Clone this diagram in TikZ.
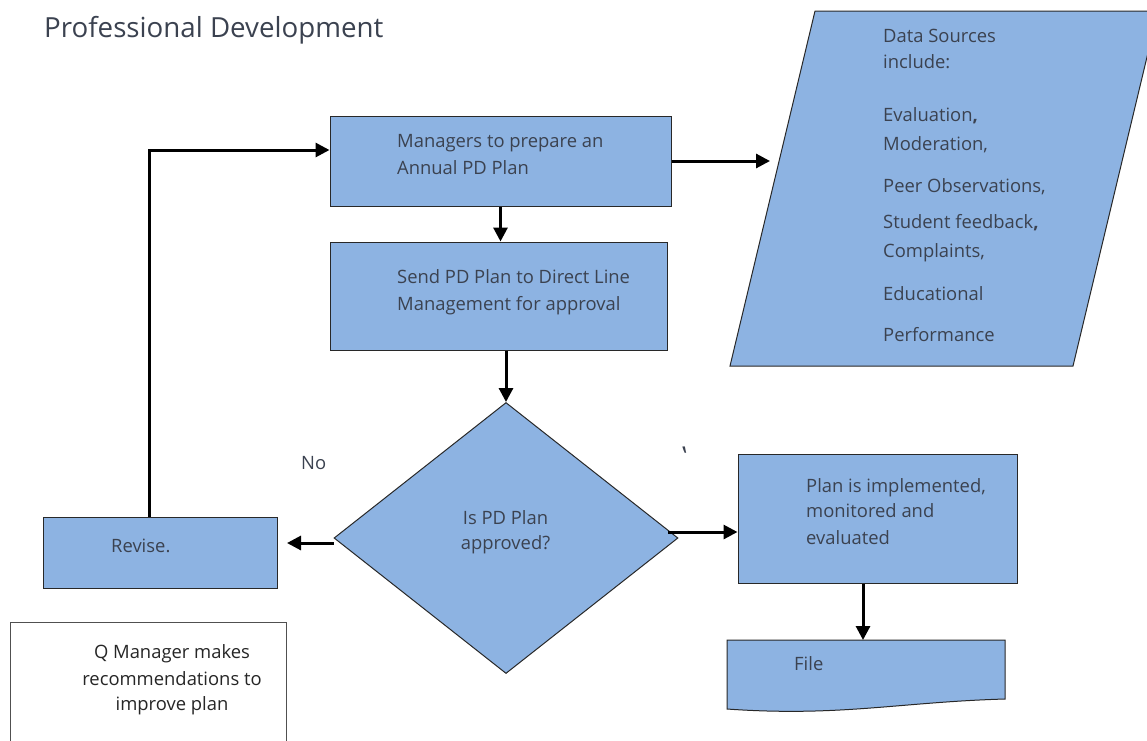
\documentclass[tikz,border=0pt]{standalone}
\usepackage{fontspec}
\setmainfont{Open Sans}
\usetikzlibrary{arrows.meta,shapes.geometric}
\definecolor{boxfill}{RGB}{141,179,226}
\definecolor{txt}{RGB}{59,66,80}
\definecolor{edge}{RGB}{40,40,40}
\definecolor{qedge}{RGB}{80,80,80}
\tikzset{
  flowbox/.style={draw=edge, line width=1pt, fill=boxfill, rectangle, inner sep=0pt},
  lbl/.style={inner sep=0pt, text=txt, font=\fontsize{18.4}{27}\selectfont, anchor=base west},
  clbl/.style={lbl, anchor=base},
  conn/.style={line width=3pt, -{Triangle[length=14pt,width=14pt]}},
}
\begin{document}
\begin{tikzpicture}[x=1pt,y=-1pt]
\useasboundingbox (0,0) rectangle (1147,740);

% title
\node[lbl, font=\fontsize{27.7}{33}\selectfont] (title) at (44,37) {Professional Development};

% data sources parallelogram
\path[draw=edge, line width=1pt, fill=boxfill] (815,11) -- (1158,11) -- (1073,366) -- (730,366) -- cycle;
\coordinate (dsin) at (770,161);
\node[lbl] (ds1) at (883,42.7) {Data Sources};
\node[lbl] (ds2) at (883,68.3) {include:};
\node[lbl] (ds3) at (883,121.7) {Evaluation\textbf{,}};
\node[lbl] (ds4) at (883,150.7) {Moderation,};
\node[lbl] (ds5) at (883,192.7) {Peer Observations,};
\node[lbl] (ds6) at (883,228.7) {Student feedback\textbf{,}};
\node[lbl] (ds7) at (883,257.3) {Complaints,};
\node[lbl] (ds8) at (883,300) {Educational};
\node[lbl] (ds9) at (883,341) {Performance};

% boxes
\node[flowbox, minimum width=341pt, minimum height=90pt] (box1) at (500.5,161) {};
\node[lbl] (b1a) at (397,147) {Managers to prepare an};
\node[lbl] (b1b) at (397,174) {Annual PD Plan};

\node[flowbox, minimum width=337pt, minimum height=108pt] (box2) at (498.5,296) {};
\node[lbl] (b2a) at (397,283) {Send PD Plan to Direct Line};
\node[lbl] (b2b) at (397,310) {Management for approval};

\node[flowbox, shape=diamond, minimum width=344pt, minimum height=271pt] (diam) at (506,538) {};
\node[clbl] (d1) at (505.5,524.3) {Is PD Plan};
\node[clbl] (d2) at (505.5,549.3) {approved?};

\node[flowbox, minimum width=234pt, minimum height=71pt] (revise) at (160,552.5) {};
\node[lbl] (rv) at (111,552.3) {Revise.};

\node[draw=qedge, line width=1pt, fill=white, rectangle, minimum width=276pt, minimum height=140pt, inner sep=0pt] (qbox) at (148,692) {};
\node[clbl, text=black!85] (q1) at (172,658.3) {Q Manager makes};
\node[clbl, text=black!85] (q2) at (172,685) {recommendations to};
\node[clbl, text=black!85] (q3) at (172,710.7) {improve plan};

\node[flowbox, minimum width=279pt, minimum height=129pt] (impl) at (877.5,518.5) {};
\node[lbl] (i1) at (806,492.7) {Plan is implemented,};
\node[lbl] (i2) at (806,517.7) {monitored and};
\node[lbl] (i3) at (806,544) {evaluated};

% file (document shape)
\path[draw=edge, line width=1pt, fill=boxfill] (727,640) -- (1005,640) -- (1005,699)
   .. controls (900,702) and (840,717) .. (727,709) -- cycle;
\coordinate (filetop) at (863,640);
\node[lbl] (fl) at (794,670) {File};

% labels
\node[lbl] (no) at (301,469) {No};
\node[clbl, xscale=-1, font=\fontsize{26}{30}\selectfont] (mark) at (684.5,465) {\textquoteright};

% connectors
\coordinate (revin) at (287,543);
\coordinate (yesy) at (668,532);
\coordinate (loop) at (149,150);
\draw[conn] (box1.east) -- (dsin);
\draw[conn] (box1.south) -- (box1.south |- box2.north);
\draw[conn] (box2.south -| diam.north) -- (diam.north);
\draw[conn] (diam.west |- revin) -- (revin);
\draw[conn] (yesy) -- (yesy -| impl.west);
\draw[conn] (revise.north -| loop) |- (box1.west |- loop);
\draw[conn] (impl.south -| filetop) -- (filetop);
\end{tikzpicture}
\end{document}
